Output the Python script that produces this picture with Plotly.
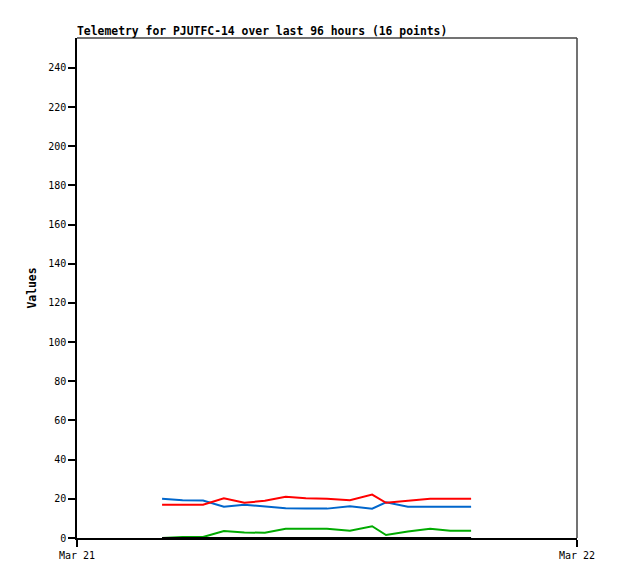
import plotly.graph_objects as go

# sample times (Mar 21)
times = ["04:05", "05:04", "06:03", "07:03", "08:02", "09:01", "10:01", "10:59",
         "12:00", "13:06", "14:10", "14:50", "15:53", "16:57", "17:55", "18:55"]

blue  = [20.1, 19.3, 19.1, 16.0, 17.0, 16.0, 15.2, 15.0, 15.0, 16.2, 15.0, 18.2, 16.0, 16.0, 16.0, 16.0]
red   = [17.0, 17.0, 17.0, 20.3, 18.0, 19.0, 21.0, 20.3, 20.1, 19.3, 22.2, 18.0, 19.0, 20.0, 20.1, 20.1]
green = [0.0, 0.5, 0.5, 3.6, 2.8, 2.7, 4.7, 4.7, 4.7, 3.7, 6.0, 1.5, 3.3, 4.7, 3.7, 3.7]
black = [0.0] * 16

x_ticks = ["2024-03-21", "2024-03-22"]
x_labels = ["Mar 21", "Mar 22"]
y_ticks = list(range(0, 241, 20))

x = ["2024-03-21 " + t for t in times]

FONT = "DejaVu Sans Mono"

fig = go.Figure()
for vals, col in [(blue, "#0066cc"), (red, "#ff0000"), (green, "#00aa00"), (black, "#000000")]:
    fig.add_trace(go.Scatter(x=x, y=vals, mode="lines",
                             line=dict(color=col, width=2), hoverinfo="skip"))

# page body has an 8px margin, so the figure is 8px smaller
fig.update_layout(
    width=610, height=571,
    margin=dict(l=69, r=41, t=30, b=41),
    plot_bgcolor="white", paper_bgcolor="white",
    showlegend=False,
    font=dict(family=FONT, size=10, color="black"),
    title=dict(text="<b>Telemetry for PJUTFC-14 over last 96 hours (16 points)</b>",
               x=0, xref="paper", xanchor="left",
               y=1 - 23 / 571, yref="container", yanchor="middle",
               font=dict(family=FONT, size=11.4, color="black")),
    shapes=[
        dict(type="line", xref="paper", yref="paper", x0=0, x1=1, y0=1, y1=1,
             line=dict(color="#444444", width=1.5)),
        dict(type="line", xref="paper", yref="paper", x0=1, x1=1, y0=0, y1=1,
             line=dict(color="#444444", width=1.5)),
    ],
)

fig.update_xaxes(
    type="date", range=x_ticks,
    tickvals=x_ticks, ticktext=x_labels,
    showgrid=False, zeroline=False,
    showline=True, linecolor="black", linewidth=1.5,
    ticks="outside", ticklen=7, tickcolor="black", tickwidth=1.5,
)
fig.update_yaxes(
    range=[0, 255.3],
    tickvals=y_ticks,
    showgrid=False, zeroline=False,
    showline=True, linecolor="black", linewidth=1.5,
    ticks="outside", ticklen=7, tickcolor="black", tickwidth=1.5,
    ticksuffix="\u00a0",
    title=dict(text="<b>Values</b>", standoff=9,
               font=dict(family=FONT, size=11.4, color="black")),
)

fig.write_html("out.html")
